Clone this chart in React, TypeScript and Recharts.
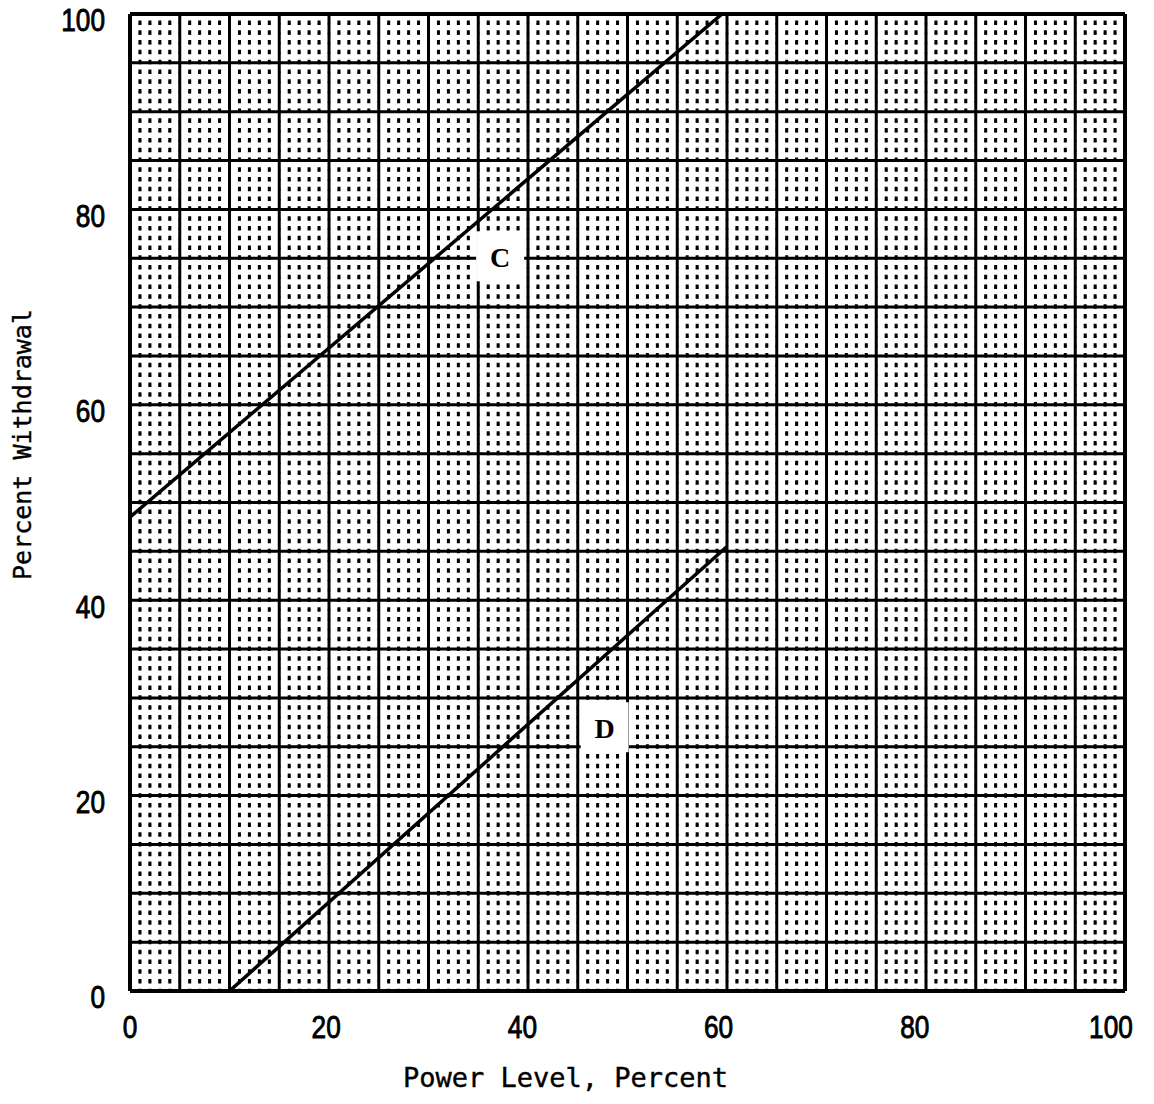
import React from "react";
import { LineChart, Line, XAxis, YAxis, ReferenceLine, ReferenceDot, Label } from "recharts";

const xTicks = [0, 20, 40, 60, 80, 100];
const yTicks = [0, 20, 40, 60, 80, 100];
const majorGrid = [5, 10, 15, 20, 25, 30, 35, 40, 45, 50, 55, 60, 65, 70, 75, 80, 85, 90, 95];
const minorGrid = Array.from({ length: 99 }, (_, i) => i + 1).filter((v) => v % 5 !== 0);

const lineC = [
  { x: 0, y: 48.5 },
  { x: 59.5, y: 100 },
];
const lineD = [
  { x: 10, y: 0 },
  { x: 60, y: 45.5 },
];
const curveLabels = [
  { name: "C", x: 37.2, y: 75.2 },
  { name: "D", x: 47.7, y: 27.0 },
];

const tickFamily = "'Liberation Sans', Arial, sans-serif";
const titleFont = "'DejaVu Sans Mono', 'Liberation Mono', monospace";

const XTick = (props: any) => {
  const { x, y, payload } = props;
  const v = payload.value;
  const tx = x - v * 0.14;
  return (
    <text
      transform={`translate(${tx}, ${y}) scale(0.82, 1)`}
      x={0}
      y={0}
      dy="0.71em"
      textAnchor="middle"
      fontFamily={tickFamily}
      fontSize={32}
      stroke="#000"
      strokeWidth={0.9}
      fill="#000"
    >
      {v}
    </text>
  );
};

const YTick = (props: any) => {
  const { x, y, payload } = props;
  const v = payload.value;
  return (
    <text
      transform={`translate(${x}, ${y + 6}) scale(0.82, 1)`}
      x={0}
      y={0}
      dy="0.355em"
      textAnchor="end"
      fontFamily={tickFamily}
      fontSize={32}
      stroke="#000"
      strokeWidth={0.9}
      fill="#000"
    >
      {v}
    </text>
  );
};

const BoxLabel = (props: any) => {
  const { cx, cy, text } = props;
  return (
    <g>
      <rect x={cx - 24} y={cy - 25} width={48} height={50} fill="#fff" />
      <text
        x={cx}
        y={cy + 1}
        textAnchor="middle"
        dominantBaseline="central"
        fontFamily="'Liberation Serif', 'DejaVu Serif', serif"
        fontWeight="bold"
        fontSize={28}
        fill="#000"
      >
        {text}
      </text>
    </g>
  );
};

const YTitle = (props: any) => {
  const vb = props.viewBox || {};
  const cx = vb.x - 48;
  const cy = vb.y + vb.height / 2 - 58;
  return (
    <text
      x={cx}
      y={cy}
      transform={`rotate(-90, ${cx}, ${cy})`}
      textAnchor="middle"
      dominantBaseline="central"
      fontFamily={titleFont}
      fontSize={25}
      stroke="#000"
      strokeWidth={0.4}
      fill="#000"
    >
      Percent Withdrawal
    </text>
  );
};

const XTitle = (props: any) => {
  const vb = props.viewBox || {};
  const cx = vb.x + vb.width / 2 - 62;
  const cy = vb.y + 86;
  return (
    <text
      x={cx}
      y={cy}
      textAnchor="middle"
      dominantBaseline="central"
      fontFamily={titleFont}
      fontSize={27}
      stroke="#000"
      strokeWidth={0.4}
      fill="#000"
    >
      Power Level, Percent
    </text>
  );
};

export default function App() {
  return (
    <div style={{ background: "#fff", width: 1146, height: 1094, marginTop: -8 }}>
      <LineChart
        width={1146}
        height={1094}
        margin={{ top: 14, right: 29, left: 62, bottom: 43 }}
      >
        <XAxis
          type="number"
          dataKey="x"
          domain={[0, 100]}
          ticks={xTicks}
          interval={0}
          allowDataOverflow
          tickLine={false}
          tickSize={20}
          tickMargin={4}
          height={60}
          axisLine={{ stroke: "#000", strokeWidth: 4 }}
          tick={<XTick />}
        >
          <Label content={<XTitle />} />
        </XAxis>
        <YAxis
          type="number"
          dataKey="y"
          domain={[0, 100]}
          ticks={yTicks}
          interval={0}
          allowDataOverflow
          tickLine={false}
          tickSize={20}
          tickMargin={5}
          width={60}
          axisLine={{ stroke: "#000", strokeWidth: 4 }}
          tick={<YTick />}
        >
          <Label content={<YTitle />} />
        </YAxis>

        {minorGrid.map((v) => (
          <ReferenceLine
            key={`mx${v}`}
            x={v}
            stroke="#000"
            strokeWidth={3}
            strokeDasharray="4.5 5.28"
            strokeDashoffset={2.25}
            ifOverflow="hidden"
          />
        ))}
        {minorGrid.map((v) => (
          <ReferenceLine
            key={`my${v}`}
            y={v}
            stroke="#000"
            strokeWidth={2}
            strokeDasharray="2.5 7.45"
            strokeDashoffset={1.25}
            ifOverflow="hidden"
          />
        ))}
        {majorGrid.map((v) => (
          <ReferenceLine key={`Mx${v}`} x={v} stroke="#000" strokeWidth={3} ifOverflow="hidden" />
        ))}
        {majorGrid.map((v) => (
          <ReferenceLine key={`My${v}`} y={v} stroke="#000" strokeWidth={3} ifOverflow="hidden" />
        ))}
        <ReferenceLine x={100} stroke="#000" strokeWidth={4} />
        <ReferenceLine y={100} stroke="#000" strokeWidth={4} />

        {curveLabels.map((l) => (
          <ReferenceDot
            key={l.name}
            x={l.x}
            y={l.y}
            r={0}
            shape={(p: any) => <BoxLabel {...p} text={l.name} />}
          />
        ))}

        <Line
          data={lineC}
          dataKey="y"
          type="linear"
          stroke="#000"
          strokeWidth={3.5}
          dot={false}
          isAnimationActive={false}
        />
        <Line
          data={lineD}
          dataKey="y"
          type="linear"
          stroke="#000"
          strokeWidth={3.5}
          dot={false}
          isAnimationActive={false}
        />
      </LineChart>
    </div>
  );
}
